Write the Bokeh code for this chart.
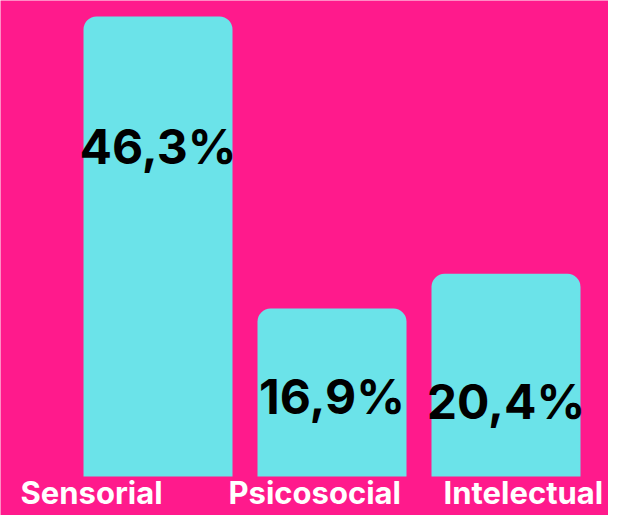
from bokeh.plotting import figure
from bokeh.models import Range1d, ColumnDataSource
from bokeh.core.properties import value
from bokeh.embed import file_html
from bokeh.resources import INLINE

categories = ["Sensorial", "Psicosocial", "Intelectual"]
values = [46.3, 16.9, 20.4]
value_labels = ["46,3%", "16,9%", "20,4%"]

# label placement (data units / pixel offsets)
value_label_y = [33.2, 8.05, 7.55]
cat_label_xoff = [-137.5, -103.5, -62.5]

PINK = "#FF1A8C"
CYAN = "#6BE3E9"

W, H = 608, 515
px_x = 174.0
px_y = 9.935
x0 = -157.5 / px_x
y0 = -39.0 / px_y

p = figure(width=W, height=H, output_backend="svg", toolbar_location=None,
           x_range=Range1d(x0, x0 + W / px_x), y_range=Range1d(y0, y0 + H / px_y),
           min_border=0, background_fill_color=PINK, border_fill_color=PINK,
           outline_line_color=None)
p.axis.visible = False
p.grid.visible = False

xs = list(range(len(categories)))
src = ColumnDataSource(dict(x=xs, top=values, cat=categories, lab=value_labels,
                            ly=value_label_y, bottom=[0] * len(xs),
                            cy=[y0 + 42 / px_y] * len(xs), cxo=cat_label_xoff))

p.vbar(x="x", top="top", bottom="bottom", width=149 / px_x, source=src,
       fill_color=CYAN, line_color=None, border_radius=(13, 13, 0, 0))

p.text(x="x", y="ly", text="lab", source=src, text_align="center",
       text_baseline="alphabetic", text_font=value("Inter"), text_font_style="bold",
       text_font_size="48px", text_color="black")

p.text(x="x", y="cy", text="cat", source=src, x_offset="cxo", text_align="left",
       text_baseline="top", text_font=value("Inter"), text_font_style="bold",
       text_font_size="31px", text_color="white")

open("out.html", "w").write(file_html(p, INLINE))
